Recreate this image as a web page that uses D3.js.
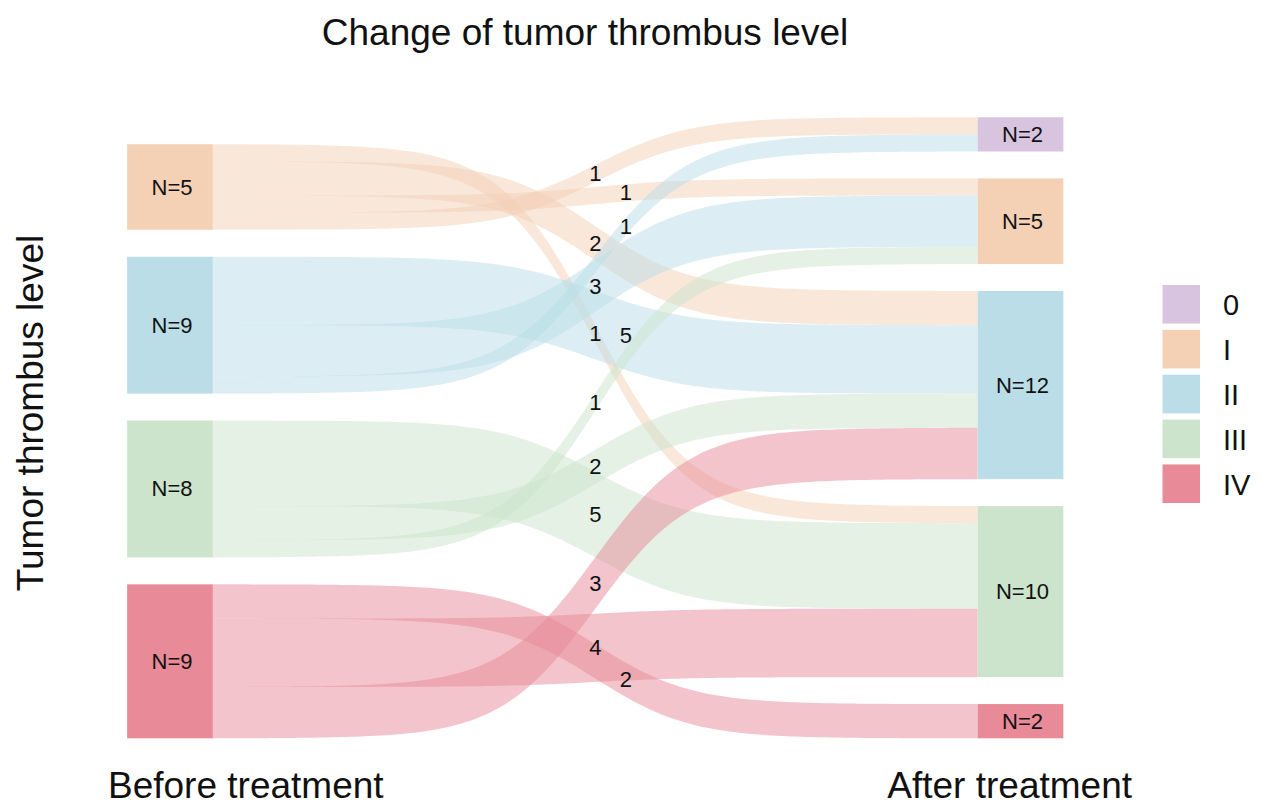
<!DOCTYPE html>
<html>
<head>
<meta charset="utf-8">
<script src="https://cdn.jsdelivr.net/npm/d3@7"></script>
<style>
  body { margin: 0; background: #fff; }
  svg { display: block; }
  text { font-family: "Liberation Sans", Arial, Helvetica, sans-serif; fill: #111; }
</style>
</head>
<body>
<svg id="chart" width="1268" height="808"></svg>
<script>
// ---------------- data ----------------
const levels = ["0", "I", "II", "III", "IV"];
const levelColors = ["#D8C4DF", "#F4D0B5", "#BADDE8", "#CCE4CB", "#E88A97"];
const stageNames = ["Before treatment", "After treatment"];
const beforeLevels = ["I", "II", "III", "IV"];
const afterLevels = ["0", "I", "II", "III", "IV"];
const beforeLabels = ["N=5", "N=9", "N=8", "N=9"];
const afterLabels = ["N=2", "N=5", "N=12", "N=10", "N=2"];
const flowFrom = ["I", "I", "I", "I", "II", "II", "II", "III", "III", "III", "IV", "IV", "IV"];
const flowTo   = ["0", "I", "II", "III", "0", "I", "II", "I", "II", "III", "II", "III", "IV"];
// band widths as drawn in the figure
const flowSize = [1, 1, 2, 1, 1, 3, 4, 1, 2, 5, 3, 4, 2];
// numbers printed on the flows
const flowLabels = ["1", "1", "2", "1", "1", "3", "5", "1", "2", "5", "3", "4", "2"];
const chartTitle = "Change of tumor thrombus level";
const yTitle = "Tumor thrombus level";

// ---------------- layout ----------------
const svg = d3.select("#chart");
const color = d3.scaleOrdinal(levels, levelColors);
const lvlIndex = l => levels.indexOf(l);
const x = d3.scalePoint(stageNames, [170, 1020.5]);
const nodeW = 85.7;
const gapU = 1.575;
const y = d3.scaleLinear([0, 36.3], [738.3, 117.3]);

const flows = flowFrom.map((f, i) => ({ from: f, to: flowTo[i], v: flowSize[i], label: flowLabels[i] }));

function stack(list, sizeOf) {
  let cur = 0; const out = new Map();
  for (let i = list.length - 1; i >= 0; i--) {
    const s = sizeOf(list[i]);
    out.set(list[i], { lo: cur, hi: cur + s, size: s });
    cur += s + gapU;
  }
  return out;
}
const beforeStack = stack(beforeLevels, l => d3.sum(flows.filter(f => f.from === l), f => f.v));
const afterStack = stack(afterLevels, l => d3.sum(flows.filter(f => f.to === l), f => f.v));

// lodes at the left: within a stratum ordered by destination, highest destination at top
beforeLevels.forEach(l => {
  let top = beforeStack.get(l).hi;
  flows.filter(f => f.from === l)
    .sort((a, b) => lvlIndex(b.to) - lvlIndex(a.to))
    .forEach(f => { f.l1 = top; f.l0 = top - f.v; top -= f.v; });
});
// lodes at the right: ordered by source, lowest source at top
afterLevels.forEach(l => {
  let top = afterStack.get(l).hi;
  flows.filter(f => f.to === l)
    .sort((a, b) => lvlIndex(a.from) - lvlIndex(b.from))
    .forEach(f => { f.r1 = top; f.r0 = top - f.v; top -= f.v; });
});

const xL = x(stageNames[0]) + nodeW / 2;
const xR = x(stageNames[1]) - nodeW / 2;
const K = 16;
const sig = t => 1 / (1 + Math.exp(-K * (t - 0.5)));
const ease = t => (sig(t) - sig(0)) / (sig(1) - sig(0));
const ts = d3.range(0, 1.0001, 1 / 160);

const area = d3.area().x(d => d.x).y0(d => d.y0).y1(d => d.y1);
function bandPts(f) {
  return ts.map(t => {
    const e = ease(t);
    return {
      x: xL + (xR - xL) * t,
      y0: y(f.l1 + (f.r1 - f.l1) * e),
      y1: y(f.l0 + (f.r0 - f.l0) * e)
    };
  });
}
function centre(f, t) {
  const e = ease(t);
  const a = (f.l0 + f.l1) / 2, b = (f.r0 + f.r1) / 2;
  return { x: xL + (xR - xL) * t, y: y(a + (b - a) * e) };
}

// flows
svg.append("g").selectAll("path").data(flows).join("path")
  .attr("d", f => area(bandPts(f)))
  .attr("fill", f => color(f.from))
  .attr("fill-opacity", 0.5);

// nodes
const nodes = [
  ...beforeLevels.map((l, i) => ({ stage: stageNames[0], lvl: l, s: beforeStack.get(l), label: beforeLabels[i] })),
  ...afterLevels.map((l, i) => ({ stage: stageNames[1], lvl: l, s: afterStack.get(l), label: afterLabels[i] }))
];
const gN = svg.append("g");
gN.selectAll("rect").data(nodes).join("rect")
  .attr("x", d => x(d.stage) - nodeW / 2)
  .attr("width", nodeW)
  .attr("y", d => y(d.s.hi))
  .attr("height", d => y(d.s.lo) - y(d.s.hi))
  .attr("fill", d => color(d.lvl));
gN.selectAll("text").data(nodes).join("text")
  .attr("x", d => x(d.stage) + 2)
  .attr("y", d => y((d.s.lo + d.s.hi) / 2))
  .attr("text-anchor", "middle")
  .attr("dominant-baseline", "central")
  .attr("font-size", 22)
  .text(d => d.label);

// flow labels: on each flow's centre line near mid-span; slide along the flow if it would hit a placed label
const candidates = [0.5, 0.54, 0.46, 0.58, 0.42, 0.62, 0.38];
const placed = [];
flows.forEach(f => {
  let pos = null;
  for (const t of candidates) {
    const p = centre(f, t);
    if (!placed.some(q => Math.abs(q.x - p.x) < 30 && Math.abs(q.y - p.y) < 26)) { pos = p; break; }
  }
  if (!pos) pos = centre(f, 0.5);
  f.lx = pos.x; f.ly = pos.y;
  placed.push(pos);
});
svg.append("g").selectAll("text").data(flows).join("text")
  .attr("x", f => f.lx)
  .attr("y", f => f.ly)
  .attr("text-anchor", "middle")
  .attr("dominant-baseline", "central")
  .attr("font-size", 22)
  .text(f => f.label);

// titles
svg.append("text").attr("x", 585).attr("y", 45).attr("text-anchor", "middle")
  .attr("font-size", 37).text(chartTitle);
svg.append("text").attr("transform", "translate(43,413) rotate(-90)").attr("text-anchor", "middle")
  .attr("font-size", 37).text(yTitle);
svg.append("text").attr("x", 108).attr("y", 798).attr("text-anchor", "start")
  .attr("font-size", 37).text(stageNames[0]);
svg.append("text").attr("x", 1132).attr("y", 798).attr("text-anchor", "end")
  .attr("font-size", 37).text(stageNames[1]);

// legend
const lg = svg.append("g");
const ly = d3.scaleBand(levels, [285, 503]).paddingInner(0.14);
lg.selectAll("rect").data(levels).join("rect")
  .attr("x", 1162.5).attr("y", d => ly(d))
  .attr("width", 37.5).attr("height", ly.bandwidth())
  .attr("fill", d => color(d));
lg.selectAll("text").data(levels).join("text")
  .attr("x", 1223).attr("y", d => ly(d) + ly.bandwidth() / 2 + 1)
  .attr("dominant-baseline", "central")
  .attr("font-size", 29)
  .text(d => d);
</script>
</body>
</html>
